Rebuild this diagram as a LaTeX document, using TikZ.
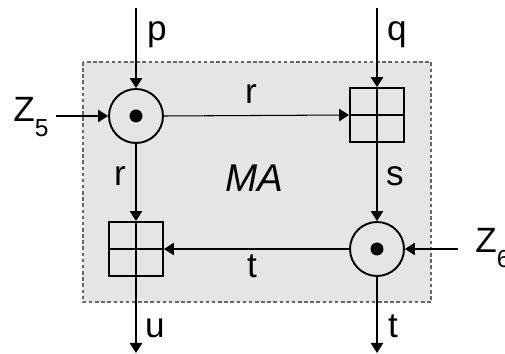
\documentclass[tikz,border=0pt]{standalone}
\usepackage{fontspec}
\setmainfont{Liberation Sans}
\usetikzlibrary{arrows.meta}

\begin{document}
\begin{tikzpicture}[x=0.02cm,y=-0.02cm,
    place/.style={circle,draw,line width=1.1pt,minimum size=1.08cm,inner sep=0pt},
    trans/.style={rectangle,draw,line width=1.1pt,minimum size=1.08cm,inner sep=0pt},
    arc/.style={-{Triangle[length=0.2cm,width=0.25cm]},line width=0.6pt},
    lbl/.style={font=\fontsize{20}{24}\selectfont,inner sep=0pt,anchor=base}]
  \useasboundingbox (0,0) rectangle (505,354);
  \draw[fill=gray!20,draw=black!60,dash pattern=on 2pt off 1.5pt,line width=0.6pt] (83,62) rectangle (431,302);
  \node[lbl,font=\itshape\fontsize{22}{26}\selectfont] (ma) at (254,192) {MA};

  % places and transitions
  \node[place] (c1) at (136,116) {};
  \node[place] (c2) at (377,249) {};
  \fill (c1) circle (0.13cm);
  \fill (c2) circle (0.13cm);
  \node[trans] (b1) at (377,115) {};
  \node[trans] (b2) at (136,249) {};
  \foreach \b in {b1,b2}
  {
    \draw[line width=1.1pt] (\b.north) -- (\b.south);
    \draw[line width=1.1pt] (\b.west) -- (\b.east);
  }

  % free ends
  \coordinate (pin) at (136,8);
  \coordinate (qin) at (377,8);
  \coordinate (zin) at (56,116);
  \coordinate (zout) at (458,249);
  \coordinate (uout) at (136,353);
  \coordinate (tout) at (377,353);
  \node[lbl,anchor=base west] (z5) at (13,122) {Z\raisebox{-8pt}{\fontsize{14}{14}\selectfont 5}};
  \node[lbl,anchor=base west] (z6) at (475,253) {Z\raisebox{-8pt}{\fontsize{14}{14}\selectfont 6}};

  % arcs
  \draw[arc] (pin) -- (c1.north);
  \draw[arc] (qin) -- (b1.north);
  \draw[arc] (zin) -- (c1.west);
  \draw[arc] (zout) -- (c2.east);
  \draw[arc] (c1.east) -- (b1.west);
  \draw[arc] (c1.south) -- (b2.north);
  \draw[arc] (b1.south) -- (c2.north);
  \draw[arc] (c2.west) -- (b2.east);
  \draw[arc] (b2.south) -- (uout);
  \draw[arc] (c2.south) -- (tout);

  % labels
  \node[lbl] (lp) at (157,41) {p};
  \node[lbl] (lq) at (397,41) {q};
  \node[lbl] (lr1) at (251,104) {r};
  \node[lbl] (lr2) at (120,186) {r};
  \node[lbl] (ls) at (395,186) {s};
  \node[lbl] (lt1) at (252,278) {t};
  \node[lbl] (lu) at (155,338) {u};
  \node[lbl] (lt2) at (393,338) {t};
\end{tikzpicture}
\end{document}
